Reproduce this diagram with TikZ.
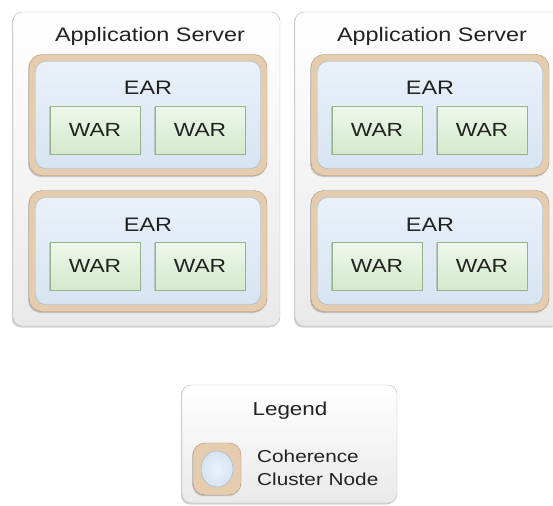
\documentclass[tikz,border=0pt]{standalone}
\usepackage{fontspec}
\setmainfont{Liberation Sans}[FakeStretch=1.2]
\usepackage{xcolor}
\usepackage{tikz}
\usetikzlibrary{shadows,positioning,shapes.geometric}
\definecolor{srvline}{HTML}{B8B8B8}
\definecolor{srvfill}{HTML}{E9E9E9}
\definecolor{earline}{HTML}{B0906F}
\definecolor{earfill}{HTML}{E6CCAE}
\definecolor{blueline}{HTML}{9FB3C8}
\definecolor{bluetop}{HTML}{EAF1F9}
\definecolor{bluefill}{HTML}{D6E4F2}
\definecolor{warline}{HTML}{93B28A}
\definecolor{wartop}{HTML}{EEF7EB}
\definecolor{warfill}{HTML}{D3EACC}
\definecolor{textcol}{HTML}{222222}
\tikzstyle{server} = [rectangle, draw=srvline, rounded corners=9pt, top color=white, bottom color=srvfill, minimum width=267pt, minimum height=314pt, drop shadow={shadow xshift=-1.2pt, shadow yshift=-1.5pt, opacity=0.35}]
\tikzstyle{earout} = [rectangle, draw=earline, fill=earfill, rounded corners=13pt, minimum width=238pt, minimum height=121pt, drop shadow={shadow xshift=-1pt, shadow yshift=-1.5pt, opacity=0.4}]
\tikzstyle{earin} = [rectangle, draw=blueline, top color=bluetop, bottom color=bluefill, rounded corners=10pt, minimum width=225pt, minimum height=107pt]
\tikzstyle{war} = [rectangle, draw=warline, top color=wartop, bottom color=warfill, minimum width=90pt, minimum height=48pt, text=textcol, font=\fontsize{19}{22}\selectfont, drop shadow={shadow xshift=-0.8pt, shadow yshift=-1pt, opacity=0.35}]
\tikzstyle{title} = [anchor=base, inner sep=0pt, text=textcol, font=\fontsize{19.5}{23}\selectfont]
\tikzstyle{entry} = [anchor=base west, inner sep=0pt, text=textcol, font=\fontsize{17.3}{21}\selectfont]
\tikzstyle{legend} = [rectangle, draw=srvline, rounded corners=9pt, top color=white, bottom color=srvfill, minimum width=215pt, minimum height=118pt, drop shadow={shadow xshift=-1.2pt, shadow yshift=-1.5pt, opacity=0.35}]
\tikzstyle{nodeicon} = [rectangle, draw=earline, fill=earfill, rounded corners=12pt, minimum width=48pt, minimum height=52pt, drop shadow={shadow xshift=-1pt, shadow yshift=-1.2pt, opacity=0.4}]
\tikzstyle{nodedot} = [ellipse, draw=blueline, inner color=bluetop, outer color=bluefill, minimum width=32pt, minimum height=36pt]

\begin{document}
\begin{tikzpicture}[x=1pt, y=-1pt, node distance=105pt]
	\useasboundingbox (0,0) rectangle (553,505);
	% two application servers, each with two EARs
	\foreach \i/\dx in {1/0, 2/282} {
		\node[server] (s\i) at (146.5+\dx,169) {};
		\node[title] (t\i) at (150+\dx,42) {Application Server};
		\foreach \j/\dy in {1/0, 2/136} {
			\node[earout] (o\i\j) at (148+\dx,115+\dy) {};
			\node[earin] (e\i\j) at (o\i\j.center) {};
			\node[title] (n\i\j) at (148+\dx,95+\dy) {EAR};
			\node[war] (wa\i\j) at (95+\dx,130+\dy) {WAR};
			\node[war, right of=wa\i\j] (wb\i\j) {WAR};
		}
	}
	% legend
	\node[legend] (lg) at (289.5,444) {};
	\node[title, font=\fontsize{18.7}{22}\selectfont] (lt) at (290,415) {Legend};
	\node[nodeicon] (ic) at (217,469) {};
	\node[nodedot] (dot) at (ic.center) {};
	\node[entry] (c1) at (257,462) {Coherence};
	\node[entry] (c2) at (257,485) {Cluster Node};
\end{tikzpicture}
\end{document}
